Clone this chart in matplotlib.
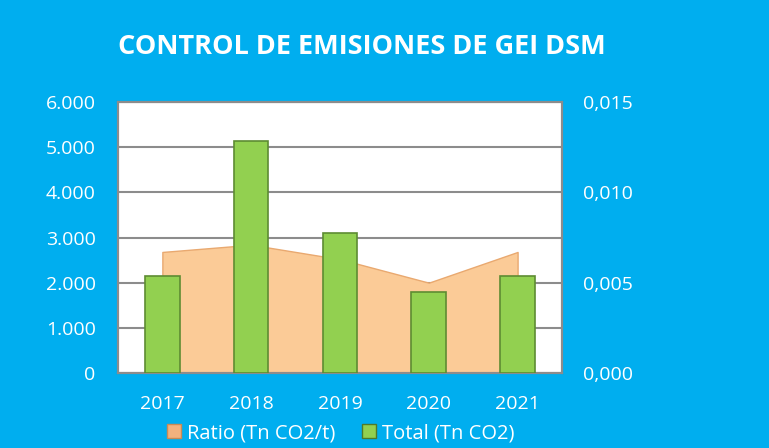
import numpy as np
import matplotlib.pyplot as plt
from matplotlib.ticker import FuncFormatter
from matplotlib.patches import Rectangle

plt.rcParams['font.family'] = ['Open Sans', 'DejaVu Sans']

years = ['2017', '2018', '2019', '2020', '2021']
total = [2150, 5140, 3100, 1785, 2150]          # Total (Tn CO2)
ratio = [0.0067, 0.0071, 0.0063, 0.0050, 0.0067]  # Ratio (Tn CO2/t)

bg = '#00AEEF'
bar_col = '#92D050'
area_col = '#FBCB97'
grid_col = '#8C8C8C'

fig = plt.figure(figsize=(7.69, 4.48), dpi=100)
fig.patch.set_facecolor(bg)

x = np.arange(len(years))
pos = [0.1534, 0.1674, 0.5774, 0.6049]

# eje del area (atras), con la cuadricula
ax2 = fig.add_axes(pos)
ax2.set_facecolor('white')
ax2.fill_between(x, ratio, 0, color=area_col, edgecolor='#E9A970', linewidth=1, zorder=2)
ax2.set_ylim(0, 0.015)
ax2.set_xlim(-0.5, 4.5)
ax2.yaxis.tick_right()
ax2.set_yticks([0, 0.005, 0.010, 0.015])
ax2.set_yticks(np.arange(0, 0.0151, 0.0025), minor=True)
ax2.grid(axis='y', which='both', color=grid_col, linewidth=1.5, zorder=0)
ax2.set_axisbelow(True)
ax2.yaxis.set_major_formatter(FuncFormatter(lambda v, p: f'{v:.3f}'.replace('.', ',')))
ax2.tick_params(axis='y', which='both', length=0, pad=15, labelsize=14, labelcolor='white')
ax2.set_xticks([])

# eje de las barras (delante)
ax = fig.add_axes(pos)
ax.patch.set_visible(False)
ax.bar(x, total, width=0.39, color=bar_col, edgecolor='#5E8C32', linewidth=1.2, zorder=3)
ax.set_xlim(-0.5, 4.5)
ax.set_ylim(0, 6000)
ax.set_yticks(np.arange(0, 6001, 1000))
ax.yaxis.set_major_formatter(FuncFormatter(lambda v, p: f'{int(v):,}'.replace(',', '.')))
ax.set_xticks(x)
ax.set_xticklabels(years)
ax.tick_params(axis='both', length=0, labelsize=14, labelcolor='white')
ax.tick_params(axis='y', pad=16)
ax.tick_params(axis='x', pad=16)

for a in (ax, ax2):
    for s in a.spines.values():
        s.set_color(grid_col)
        s.set_linewidth(1.5)

fig.text(0.47, 0.895, 'CONTROL DE EMISIONES DE GEI DSM', ha='center', va='center',
         color='white', fontsize=19.5, fontweight='bold')

handles = [Rectangle((0, 0), 1, 1, facecolor='#F2B27E', edgecolor='#C98A55'),
           Rectangle((0, 0), 1, 1, facecolor=bar_col, edgecolor='#4F7A2A')]
fig.legend(handles, ['Ratio (Tn CO2/t)', 'Total (Tn CO2)'], loc='center',
           bbox_to_anchor=(0.443, 0.033), ncol=2, frameon=False, fontsize=14.5,
           labelcolor='white', handlelength=0.7, handleheight=0.7,
           handletextpad=0.3, columnspacing=1.3)

fig.savefig('out.png', dpi=100, facecolor=bg)
